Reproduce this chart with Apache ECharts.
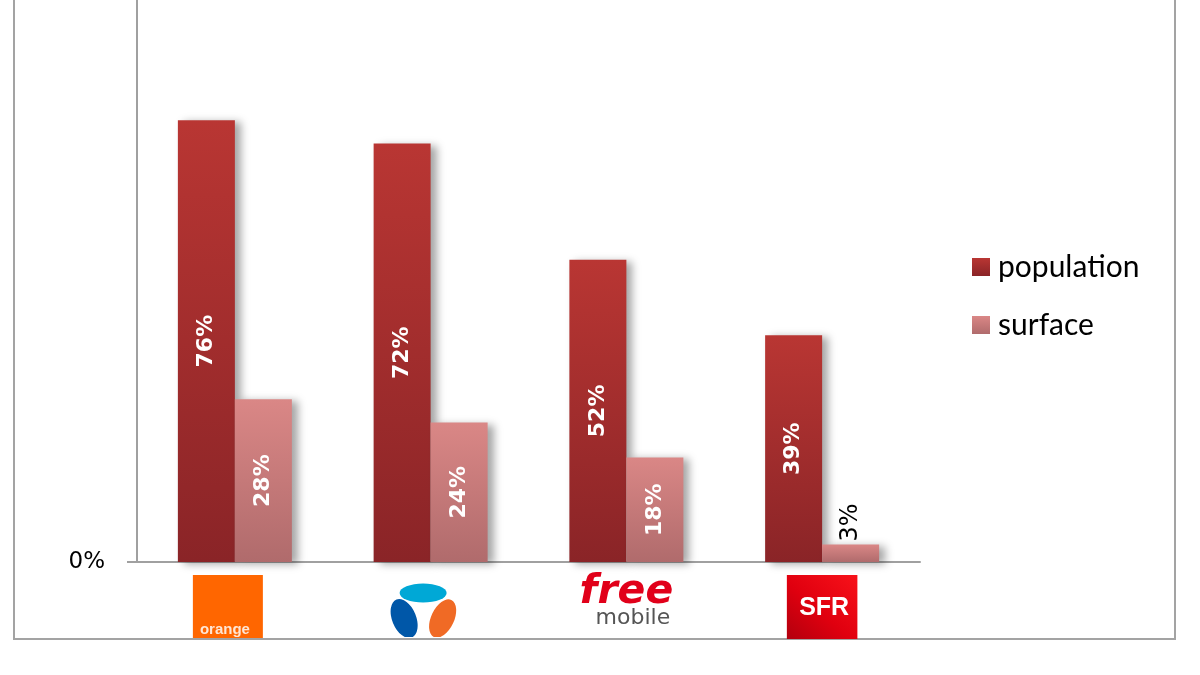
<!DOCTYPE html>
<html>
<head>
<meta charset="utf-8">
<script src="https://cdn.jsdelivr.net/npm/echarts@6/dist/echarts.min.js"></script>
<style>html,body{margin:0;padding:0;background:#fff}#c{width:1200px;height:675px}</style>
</head>
<body>
<div id="c"></div>
<script>
const categories = ['orange', 'Bouygues', 'free mobile', 'SFR'];
const population = [76, 72, 52, 39];
const surface = [28, 24, 18, 3];
const yTickLabels = [0];
const yMin = 0;
const yMax = 96.7;

const bouyguesSvg = 'data:image/svg+xml;utf8,' + encodeURIComponent(
  '<svg xmlns="http://www.w3.org/2000/svg" width="86" height="62" viewBox="0 0 86 62">' +
  '<rect x="0" y="9" width="70" height="53" fill="#fff"/>' +
  '<ellipse cx="35.5" cy="18" rx="23.5" ry="9.5" fill="#00a8d6"/>' +
  '<ellipse cx="16.5" cy="43.5" rx="12" ry="20.5" transform="rotate(-22 16.5 43.5)" fill="#0057a8"/>' +
  '<ellipse cx="55" cy="43.5" rx="11.5" ry="20.5" transform="rotate(25 55 43.5)" fill="#f06a25"/>' +
  '</svg>');
const sfrSvg = 'data:image/svg+xml;utf8,' + encodeURIComponent(
  '<svg xmlns="http://www.w3.org/2000/svg" width="67" height="62">' +
  '<defs><linearGradient id="g" x1="1" y1="0" x2="0" y2="1">' +
  '<stop offset="0" stop-color="#f8121a"/><stop offset="0.55" stop-color="#e0000f"/><stop offset="1" stop-color="#b2000e"/>' +
  '</linearGradient></defs><rect width="67" height="62" fill="url(#g)"/></svg>');

const popColor = new echarts.graphic.LinearGradient(0, 0, 0, 1, [
  {offset: 0, color: '#b93633'}, {offset: 1, color: '#8a2427'}]);
const surfColor = new echarts.graphic.LinearGradient(0, 0, 0, 1, [
  {offset: 0, color: '#da8786'}, {offset: 1, color: '#b06b6c'}]);

const shadow = {shadowColor: 'rgba(0,0,0,0.35)', shadowBlur: 8, shadowOffsetX: 6, shadowOffsetY: 2};
const innerLabel = {
  show: true, position: 'inside', rotate: 90, color: '#fff',
  fontFamily: 'DejaVu Sans', fontWeight: 'bold', fontSize: 22,
  formatter: p => p.value + '%'
};
function buildData(arr) {
  return arr.map(v => v < 10 ? {
    value: v,
    label: {position: 'top', color: '#000', fontWeight: 'normal', fontSize: 24,
            align: 'left', verticalAlign: 'middle', distance: 3}
  } : v);
}

const chart = echarts.init(document.getElementById('c'));
chart.setOption({
  animation: false,
  backgroundColor: '#fff',
  graphic: [{
    type: 'rect', z: -1, silent: true,
    shape: {x: 14, y: -10, width: 1161, height: 649},
    style: {fill: 'none', stroke: '#a3a3a3', lineWidth: 2}
  }],
  grid: {left: 137, right: 280, top: 0, bottom: 113},
  legend: {
    orient: 'vertical', left: 967, top: 247,
    itemWidth: 18, itemHeight: 18, itemGap: 28, icon: 'rect',
    textStyle: {fontFamily: 'Lato', fontSize: 30, lineHeight: 28, color: '#000', padding: [0, 0, 0, 3]},
    data: ['population', 'surface']
  },
  xAxis: {
    type: 'category', data: categories,
    axisLine: {lineStyle: {color: '#a0a0a0', width: 2}},
    axisTick: {length: 10, lineStyle: {color: '#a0a0a0', width: 2}},
    axisLabel: {
      interval: 0, margin: 13,
      formatter: v => {
        if (v === 'orange') return '{o|orange}{sp| }';
        if (v === 'Bouygues') return '{b| }';
        if (v === 'free mobile') return '{f|free}\n{m|mobile}';
        return '{s|SFR}';
      },
      rich: {
        o: {backgroundColor: '#ff6600', color: '#ffe6d4', fontFamily: 'Liberation Sans', fontWeight: 'bold',
            fontSize: 15, width: 63, height: 16, padding: [47, 0, 0, 7], align: 'left'},
        sp: {width: 14, height: 63},
        b: {backgroundColor: {image: bouyguesSvg}, width: 86, height: 62},
        f: {color: '#e1001a', fontFamily: 'DejaVu Sans', fontWeight: 'bold', fontStyle: 'italic',
            fontSize: 41, lineHeight: 34, align: 'right', padding: [0, 0, 0, 0]},
        m: {color: '#555', fontFamily: 'DejaVu Sans', fontSize: 22, lineHeight: 18, align: 'right', padding: [0, 3, 0, 0]},
        s: {backgroundColor: {image: sfrSvg}, color: '#fff', fontFamily: 'Liberation Sans', fontWeight: 'bold',
            fontSize: 25, width: 67, height: 62, align: 'center', padding: [2, 0, 0, 4]}
      }
    }
  },
  yAxis: {
    type: 'value', min: yMin, max: yMax,
    splitLine: {show: false},
    axisLine: {show: true, lineStyle: {color: '#a0a0a0', width: 2}},
    axisTick: {show: true, length: 10, customValues: yTickLabels, lineStyle: {color: '#a0a0a0', width: 2}},
    axisLabel: {margin: 32, color: '#000', fontFamily: 'DejaVu Sans', fontSize: 23, customValues: yTickLabels,
                formatter: v => v + '%'}
  },
  series: [
    {name: 'population', type: 'bar', data: buildData(population), barWidth: 57, barGap: '0%',
     itemStyle: Object.assign({color: popColor}, shadow), label: innerLabel},
    {name: 'surface', type: 'bar', data: buildData(surface), barWidth: 57, barGap: '0%',
     itemStyle: Object.assign({color: surfColor}, shadow), label: innerLabel}
  ]
});
</script>
</body>
</html>
